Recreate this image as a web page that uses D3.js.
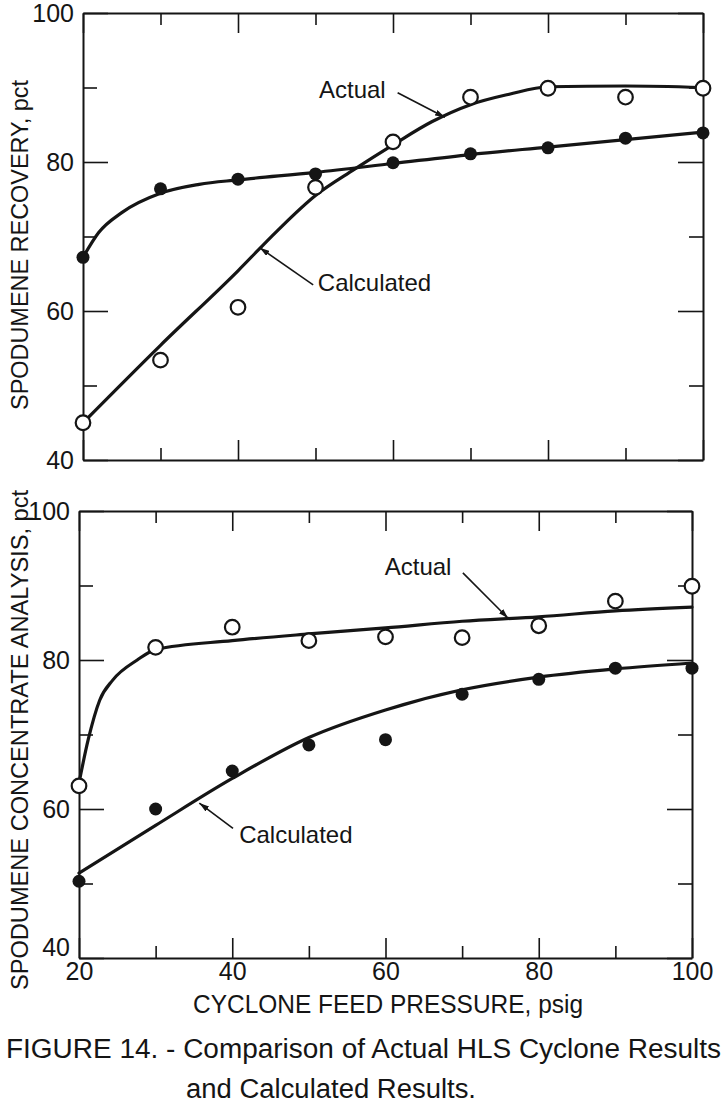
<!DOCTYPE html>
<html><head><meta charset="utf-8">
<script src="https://cdn.jsdelivr.net/npm/d3@7"></script>
<style>body{margin:0;background:#fff} svg{display:block}</style>
</head><body><svg id="c" width="726" height="1109"></svg>
<script>
// ---------- data ----------
const pressure = [20, 30, 40, 50, 60, 70, 80, 90, 100];

// Top panel: spodumene recovery, pct
const recoveryActual     = [45.0, 53.4, 60.5, 76.6, 82.7, 88.7, 89.9, 88.7, 89.9];
const recoveryCalculated = [67.2, 76.4, 77.7, 78.4, 79.9, 81.1, 81.9, 83.2, 83.9];
// Bottom panel: spodumene concentrate analysis, pct
const concentrateActual     = [63.1, 81.7, 84.4, 82.6, 83.1, 83.0, 84.6, 87.9, 89.9];
const concentrateCalculated = [50.3, 60.0, 65.1, 68.6, 69.3, 75.4, 77.4, 78.9, 78.9];

// Hand-drawn fitted curves
const recoveryCurveAX = [20, 30, 40, 45, 50, 55, 60, 65, 70, 75, 80, 90, 100];
const recoveryCurveAY = [45, 55.4, 65.4, 70.7, 75.5, 79.0, 82.3, 85.4, 87.7, 89.1, 90.1, 90.2, 90.0];
const recoveryCurveBX = [20, 22, 25, 30, 35, 40, 50, 60, 70, 80, 90, 100];
const recoveryCurveBY = [67.2, 70.5, 73.2, 75.8, 77.0, 77.6, 78.6, 79.8, 81.0, 82.0, 83.0, 84.0];
const concentrateCurveAX = [20, 21.2, 22.7, 24.4, 27.6, 30, 40, 50, 60, 70, 80, 90, 100];
const concentrateCurveAY = [63.5, 69.3, 74.6, 77.3, 80.0, 81.4, 82.6, 83.5, 84.3, 85.2, 85.8, 86.6, 87.1];
const concentrateCurveBX = [20, 30, 40, 50, 60, 70, 80, 90, 100];
const concentrateCurveBY = [51.4, 57.8, 64.1, 69.6, 73.3, 76.0, 77.7, 78.8, 79.6];

// Annotations (data units)
const labelTexts = ["Actual", "Calculated"];
const recoveryLabelX = [50.45, 50.3];
const recoveryLabelY = [89.7, 63.9];
const recoveryArrowFrom = [[60.6, 89.3], [49.7, 63.5]];
const recoveryArrowTo   = [[66.7, 86.0], [42.8, 68.5]];
const concentrateLabelX = [59.9, 40.9];
const concentrateLabelY = [92.6, 56.6];
const concentrateArrowFrom = [[70.1, 91.7], [40.1, 57.4]];
const concentrateArrowTo   = [[76.0, 85.6], [35.7, 60.8]];

// Axes
const xDomain = [20, 100];
const yDomain = [40, 100];
const xTicks = [20, 30, 40, 50, 60, 70, 80, 90, 100];
const xTickLabels = ["20", "40", "60", "80", "100"];
const yTicks = [40, 50, 60, 70, 80, 90, 100];
const yTickLabels = ["40", "60", "80", "100"];
const yTitles = ["SPODUMENE RECOVERY, pct", "SPODUMENE CONCENTRATE ANALYSIS, pct"];
const xTitle = "CYCLONE FEED PRESSURE, psig";
const captionLines = ["FIGURE  14. - Comparison of Actual HLS Cyclone Results", "and Calculated Results."];

// ---------- drawing ----------
const INK = "#151515";
const FONT = "'Liberation Sans', Arial, Helvetica, sans-serif";
const svg = d3.select("#c");

svg.append("defs").append("marker")
  .attr("id", "ah").attr("viewBox", "0 0 10 6").attr("refX", 10).attr("refY", 3)
  .attr("markerWidth", 10).attr("markerHeight", 6).attr("markerUnits", "userSpaceOnUse")
  .attr("orient", "auto")
  .append("path").attr("d", "M0,0 L10,3 L0,6 Z").attr("fill", INK);

const panels = [
  { box: {l: 83, r: 703, t: 13, b: 460}, actual: recoveryActual, calc: recoveryCalculated,
    cAX: recoveryCurveAX, cAY: recoveryCurveAY, cBX: recoveryCurveBX, cBY: recoveryCurveBY,
    lx: recoveryLabelX, ly: recoveryLabelY, af: recoveryArrowFrom, at: recoveryArrowTo,
    xLabels: false, title: yTitles[0], titleSpan: [80, 410] },
  { box: {l: 79, r: 692, t: 511, b: 958}, actual: concentrateActual, calc: concentrateCalculated,
    cAX: concentrateCurveAX, cAY: concentrateCurveAY, cBX: concentrateCurveBX, cBY: concentrateCurveBY,
    lx: concentrateLabelX, ly: concentrateLabelY, af: concentrateArrowFrom, at: concentrateArrowTo,
    xLabels: true, title: yTitles[1], titleSpan: [490, 990] }
];

function styleAxis(g) {
  g.select(".domain").attr("stroke", INK).attr("stroke-width", 2);
  g.selectAll(".tick line").attr("stroke", INK).attr("stroke-width", 1.6);
  g.selectAll(".tick text").attr("fill", INK).attr("font-size", 25).attr("font-family", FONT);
  g.attr("font-family", FONT);
}

panels.forEach(p => {
  const {l, r, t, b} = p.box;
  const x = d3.scaleLinear().domain(xDomain).range([l, r]);
  const y = d3.scaleLinear().domain(yDomain).range([b, t]);
  const g = svg.append("g");

  const xMajor = d => d % 20 === 0 ? 20 : 12;
  const yMajor = d => d % 20 === 0 ? 25 : 14;

  // bottom
  const gb = g.append("g").attr("transform", `translate(0,${b})`)
    .call(d3.axisBottom(x).tickValues(xTicks).tickSizeInner(-12).tickSizeOuter(0).tickPadding(4)
      .tickFormat(d => p.xLabels && xTickLabels.includes(String(d)) ? String(d) : ""));
  gb.selectAll(".tick line").attr("y2", d => -xMajor(d));
  styleAxis(gb);
  // top
  const gt = g.append("g").attr("transform", `translate(0,${t})`)
    .call(d3.axisTop(x).tickValues(xTicks).tickSizeInner(-12).tickSizeOuter(0).tickFormat(""));
  gt.selectAll(".tick line").attr("y2", d => xMajor(d));
  styleAxis(gt);
  // left
  const gl = g.append("g").attr("transform", `translate(${l},0)`)
    .call(d3.axisLeft(y).tickValues(yTicks).tickSizeInner(-14).tickSizeOuter(0).tickPadding(9)
      .tickFormat(d => yTickLabels.includes(String(d)) ? String(d) : ""));
  gl.selectAll(".tick line").attr("x2", d => yMajor(d));
  // lowest label of the lower panel sits above the corner, clear of the x label "20"
  if (p.xLabels) gl.selectAll(".tick text").filter(d => d === yDomain[0]).attr("dy", "-0.12em");
  styleAxis(gl);
  // right
  const gr = g.append("g").attr("transform", `translate(${r},0)`)
    .call(d3.axisRight(y).tickValues(yTicks).tickSizeInner(-14).tickSizeOuter(0).tickFormat(""));
  gr.selectAll(".tick line").attr("x2", d => -yMajor(d));
  styleAxis(gr);

  // curves
  const line = d3.line().x(d => x(d[0])).y(d => y(d[1])).curve(d3.curveMonotoneX);
  [[p.cAX, p.cAY], [p.cBX, p.cBY]].forEach(([xs, ys]) => {
    g.append("path").datum(xs.map((v, i) => [v, ys[i]]))
      .attr("d", line).attr("fill", "none").attr("stroke", INK)
      .attr("stroke-width", 3.2).attr("stroke-linecap", "round");
  });

  // markers
  g.selectAll(null).data(pressure.map((v, i) => [v, p.calc[i]])).join("circle")
    .attr("cx", d => x(d[0])).attr("cy", d => y(d[1])).attr("r", 6.5).attr("fill", INK);
  g.selectAll(null).data(pressure.map((v, i) => [v, p.actual[i]])).join("circle")
    .attr("cx", d => x(d[0])).attr("cy", d => y(d[1])).attr("r", 7.3)
    .attr("fill", "#fff").attr("stroke", INK).attr("stroke-width", 2.2);

  // annotations
  labelTexts.forEach((txt, i) => {
    g.append("text").attr("x", x(p.lx[i])).attr("y", y(p.ly[i])).attr("dy", "0.36em")
      .attr("font-family", FONT).attr("font-size", 24).attr("fill", INK).text(txt);
    g.append("line")
      .attr("x1", x(p.af[i][0])).attr("y1", y(p.af[i][1]))
      .attr("x2", x(p.at[i][0])).attr("y2", y(p.at[i][1]))
      .attr("stroke", INK).attr("stroke-width", 1.6).attr("marker-end", "url(#ah)");
  });

  // y title
  const cy = (p.titleSpan[0] + p.titleSpan[1]) / 2;
  svg.append("text").attr("transform", `translate(28,${cy}) rotate(-90)`)
    .attr("text-anchor", "middle").attr("font-family", FONT).attr("font-size", 24).attr("fill", INK)
    .attr("textLength", p.titleSpan[1] - p.titleSpan[0]).attr("lengthAdjust", "spacingAndGlyphs")
    .text(p.title);
});

// x title
svg.append("text").attr("x", 388).attr("y", 1013).attr("text-anchor", "middle")
  .attr("font-family", FONT).attr("font-size", 25).attr("fill", INK)
  .attr("textLength", 390).attr("lengthAdjust", "spacingAndGlyphs").text(xTitle);

// caption
svg.append("text").attr("x", 6).attr("y", 1058)
  .attr("font-family", FONT).attr("font-size", 27).attr("fill", INK)
  .attr("textLength", 715).attr("lengthAdjust", "spacingAndGlyphs").text(captionLines[0]);
svg.append("text").attr("x", 186).attr("y", 1098)
  .attr("font-family", FONT).attr("font-size", 27).attr("fill", INK)
  .attr("textLength", 290).attr("lengthAdjust", "spacingAndGlyphs").text(captionLines[1]);
</script></body></html>
